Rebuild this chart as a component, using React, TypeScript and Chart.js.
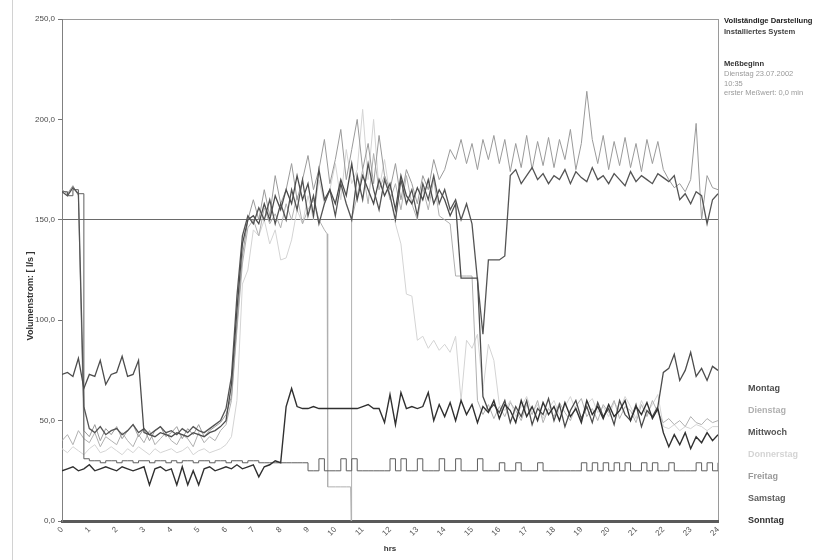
import React, { useEffect, useRef } from 'react';
import { Chart, registerables } from 'chart.js';

Chart.register(...registerables);

const FONT = "'Liberation Sans', Arial, Helvetica, sans-serif";

// time axis (hours), sampled every 0.2 h
const HOURS = [
  0, 0.2, 0.4, 0.6, 0.8, 1, 1.2, 1.4, 1.6, 1.8,
  2, 2.2, 2.4, 2.6, 2.8, 3, 3.2, 3.4, 3.6, 3.8,
  4, 4.2, 4.4, 4.6, 4.8, 5, 5.2, 5.4, 5.6, 5.8,
  6, 6.2, 6.4, 6.6, 6.8, 7, 7.2, 7.4, 7.6, 7.8,
  8, 8.2, 8.4, 8.6, 8.8, 9, 9.2, 9.4, 9.6, 9.8,
  10, 10.2, 10.4, 10.6, 10.8, 11, 11.2, 11.4, 11.6, 11.8,
  12, 12.2, 12.4, 12.6, 12.8, 13, 13.2, 13.4, 13.6, 13.8,
  14, 14.2, 14.4, 14.6, 14.8, 15, 15.2, 15.4, 15.6, 15.8,
  16, 16.2, 16.4, 16.6, 16.8, 17, 17.2, 17.4, 17.6, 17.8,
  18, 18.2, 18.4, 18.6, 18.8, 19, 19.2, 19.4, 19.6, 19.8,
  20, 20.2, 20.4, 20.6, 20.8, 21, 21.2, 21.4, 21.6, 21.8,
  22, 22.2, 22.4, 22.6, 22.8, 23, 23.2, 23.4, 23.6, 23.8,
  24,
];

const HOUR_TICKS = [0, 1, 2, 3, 4, 5, 6, 7, 8, 9, 10, 11, 12, 13, 14, 15, 16, 17, 18, 19, 20, 21, 22, 23, 24];
const Y_MIN = 0;
const Y_MAX = 250;
const Y_STEP = 50;
const REFERENCE_LINE = 150;

// Volumenstrom [l/s]
const MONTAG = [
  73, 74, 72, 81, 66, 73, 72, 80, 68, 73,
  74, 82, 72, 73, 80, 44, 43, 42, 44, 43,
  42, 44, 43, 42, 44, 43, 42, 44, 45, 47,
  50, 68, 105, 138, 150, 152, 148, 158, 150, 162,
  155, 165, 158, 172, 160, 168, 152, 175, 160, 165,
  158, 170, 162, 178, 160, 172, 165, 158, 170, 162,
  168, 155, 172, 162, 158, 166, 160, 170, 158, 165,
  160, 152, 158, 121, 121, 121, 121, 62, 55, 58,
  54, 60, 49, 57, 52, 60, 48, 56, 53, 61,
  50, 58, 47, 55, 60, 51, 57, 49, 59, 52,
  56, 48, 60, 53, 50, 58, 47, 55, 52, 57,
  74, 76, 83, 70, 75, 84, 72, 76, 70, 77,
  75,
];

const DIENSTAG = [
  40, 43, 38, 45, 41, 39, 44, 37, 42, 40,
  38, 44, 40, 37, 43, 39, 45, 38, 41, 44,
  40, 38, 43, 41, 37, 44, 39, 42, 40, 45,
  48, 60, 95, 128, 146, 150, 142, 156, 148, 153,
  146, 158, 150, 162, 148, 155, 160, 150, 145, 17,
  17, 17, 17, 150, 162, 175, 158, 183, 165, 172,
  160, 168, 155, 172, 158, 150, 166, 155, 170, 152,
  150, 148, 122, 122, 122, 122, 60, 53, 58, 51,
  57, 52, 59, 55, 50, 58, 53, 60, 49, 56,
  52, 59, 54, 50, 57, 61, 52, 56, 50, 58,
  54, 60, 51, 57, 55, 49, 58, 52, 60, 54,
  49, 51, 48, 50, 47, 52, 49, 48, 51, 49,
  50,
];
// measurement gap around the start of the recording (Dienstag 10:35)
const DIENSTAG_GAP_HOURS = [9.7, 9.72, 10.56, 10.58, 10.59];
const DIENSTAG_GAP_VALUES = [143, 17, 17, 0, 0];

const MITTWOCH = [
  164, 162, 166, 163, 57, 46, 44, 47, 43, 45,
  46, 43, 45, 48, 44, 46, 43, 45, 47, 44,
  45, 43, 46, 44, 47, 45, 44, 46, 48, 50,
  56, 72, 112, 142, 152, 148, 156, 150, 160, 148,
  158, 150, 165, 155, 170, 152, 162, 148, 158, 165,
  152, 168, 158, 150, 172, 160, 178, 165, 155, 170,
  162, 150, 170, 158, 165, 152, 168, 160, 172, 158,
  165, 155, 160, 150, 158, 148, 120, 93, 130, 130,
  130, 132, 172, 175, 168, 172, 176, 170, 173, 168,
  172, 170, 175, 168, 174, 171, 169, 176, 170, 172,
  168, 173, 170, 167, 174, 169, 172, 170, 168, 173,
  171, 169, 172, 160, 163, 158, 164, 162, 148, 160,
  163,
];

const DONNERSTAG = [
  36, 34, 37, 35, 33, 36, 38, 34, 35, 37,
  35, 33, 36, 34, 37, 35, 33, 36, 34, 35,
  36, 34, 35, 37, 33, 35, 36, 34, 35, 36,
  38, 42, 60, 118, 125, 145, 142, 150, 138, 145,
  130, 131, 140, 155, 148, 162, 150, 170, 158, 165,
  178, 160, 185, 168, 175, 205, 170, 200, 165, 180,
  162, 148, 138, 113, 112, 90, 92, 86, 90, 85,
  88, 84, 92, 60, 90, 86, 93, 65, 88, 80,
  58, 55, 60, 52, 57, 62, 54, 58, 51, 56,
  60, 53, 57, 62, 55, 50, 58, 61, 54, 57,
  52, 59, 55, 62, 57, 51, 60, 54, 58, 63,
  47, 46, 48, 45, 47, 46, 48, 47, 45, 47,
  47,
];

const FREITAG = [
  165, 163, 167, 162, 45, 42, 48, 40, 46, 43,
  47, 41, 45, 48, 42, 46, 40, 45, 47, 42,
  44, 47, 41, 46, 43, 48, 42, 45, 47, 49,
  53, 62, 98, 132, 150, 160, 150, 165, 152, 172,
  158, 165, 178, 160, 170, 182, 165, 175, 190, 168,
  180, 195, 170, 185, 200, 175, 188, 168, 192, 172,
  165, 178, 160, 175, 168, 158, 172, 165, 180, 170,
  175, 185, 180, 190, 178, 188, 175, 190, 180, 192,
  178, 190, 174, 188, 176, 192, 175, 189, 177, 191,
  176, 190, 180, 195, 175, 188, 214, 190, 178, 192,
  175, 189, 177, 191, 176, 188, 174, 190, 178, 189,
  175, 170, 166, 168, 164, 170, 198, 150, 172, 166,
  165,
];

const SAMSTAG = [
  164, 162, 165, 163, 31, 30, 30, 29, 30, 30,
  29, 30, 30, 29, 30, 30, 29, 30, 30, 29,
  30, 29, 30, 30, 29, 30, 30, 29, 30, 30,
  29, 30, 30, 29, 30, 30, 29, 29, 29, 29,
  29, 29, 29, 29, 29, 25, 25, 31, 25, 25,
  25, 31, 25, 31, 25, 25, 25, 25, 25, 25,
  31, 25, 31, 25, 25, 31, 25, 25, 25, 31,
  25, 25, 31, 25, 25, 25, 31, 25, 25, 25,
  29, 25, 25, 29, 25, 25, 25, 29, 25, 25,
  25, 25, 25, 25, 25, 29, 25, 29, 25, 29,
  25, 29, 25, 29, 25, 25, 29, 25, 29, 25,
  25, 29, 25, 25, 25, 25, 29, 25, 29, 25,
  29,
];

const SONNTAG = [
  25, 26, 27, 25, 26, 28, 25, 26, 27, 26,
  25, 27, 26, 25, 26, 27, 18, 26, 27, 25,
  26, 18, 27, 18, 25, 18, 26, 27, 25, 26,
  27, 26, 28, 26, 27, 28, 22, 27, 28, 30,
  29, 57, 66, 57, 56, 56, 57, 56, 56, 56,
  56, 56, 56, 56, 56, 57, 58, 56, 56, 49,
  63, 48, 64, 56, 57, 56, 57, 64, 50, 58,
  52, 59, 50, 60, 53, 58, 49, 57, 54, 60,
  51, 58, 55, 49, 60, 52, 57, 50, 59, 53,
  57, 50, 59, 52, 56, 49, 60, 53, 57, 51,
  58, 52, 55, 60, 50, 57, 53, 59, 51, 56,
  44, 37, 43, 38, 44, 36, 42, 39, 44, 40,
  43,
];

const SERIES_NAMES = ['Montag', 'Dienstag', 'Mittwoch', 'Donnerstag', 'Freitag', 'Samstag', 'Sonntag'];
const SERIES_VALUES = [MONTAG, DIENSTAG, MITTWOCH, DONNERSTAG, FREITAG, SAMSTAG, SONNTAG];
const SERIES_COLORS = ['#4c4c4c', '#b0b0b0', '#545454', '#d4d4d4', '#9a9a9a', '#5e5e5e', '#303030'];
const SERIES_WIDTHS = [1.3, 1, 1.3, 1, 1, 1, 1.4];
const SERIES_ORDER = [1, 5, 2, 6, 4, 3, 0];
const SERIES_STEPPED = [false, false, false, false, false, true, false];

const Y_TITLE = 'Volumenstrom: [ l/s ]';
const X_TITLE = 'hrs';
const INFO_LINES = [
  { text: 'Vollständige Darstellung', bold: true, color: '#222', y: 21 },
  { text: 'Installiertes System', bold: true, color: '#444', y: 32 },
  { text: 'Meßbeginn', bold: true, color: '#333', y: 64 },
  { text: 'Dienstag 23.07.2002', bold: false, color: '#9a9a9a', y: 74 },
  { text: '10:35', bold: false, color: '#9a9a9a', y: 84 },
  { text: 'erster Meßwert: 0,0 min', bold: false, color: '#9a9a9a', y: 93 },
];

function buildPoints(values: number[], extraX: number[] = [], extraY: number[] = []) {
  const pts = values.map((y, i) => ({ x: HOURS[i], y }));
  extraX.forEach((x, i) => pts.push({ x, y: extraY[i] }));
  pts.sort((a, b) => a.x - b.x);
  return pts;
}

const decorPlugin = {
  id: 'decor',
  afterDraw(chart: any) {
    const ctx = chart.ctx as CanvasRenderingContext2D;
    ctx.save();
    // scanned page edge on the left
    ctx.strokeStyle = '#d2d2d2';
    ctx.lineWidth = 1;
    ctx.beginPath();
    ctx.moveTo(12.5, 0);
    ctx.lineTo(12.5, 560);
    ctx.stroke();

    // y-axis title
    ctx.save();
    ctx.translate(31, 296);
    ctx.rotate(-Math.PI / 2);
    ctx.font = `bold 9px ${FONT}`;
    ctx.fillStyle = '#333';
    ctx.textAlign = 'center';
    ctx.textBaseline = 'middle';
    ctx.fillText(Y_TITLE, 0, 0);
    ctx.restore();

    // info block
    ctx.textAlign = 'left';
    ctx.textBaseline = 'middle';
    INFO_LINES.forEach((l) => {
      ctx.font = `${l.bold ? 'bold 7.6px' : '7.5px'} ${FONT}`;
      ctx.fillStyle = l.color;
      ctx.fillText(l.text, 724, l.y);
    });

    // legend (coloured labels only)
    ctx.font = `bold 9px ${FONT}`;
    chart.data.datasets.forEach((ds: any, i: number) => {
      ctx.fillStyle = ds.borderColor;
      ctx.fillText(ds.label, 748, 389 + i * 22);
    });
    ctx.restore();
  },
};

export default function App() {
  const ref = useRef<HTMLCanvasElement>(null);

  useEffect(() => {
    if (!ref.current) return;
    const datasets = SERIES_NAMES.map((name, i) => ({
      label: name,
      data: i === 1 ? buildPoints(SERIES_VALUES[i], DIENSTAG_GAP_HOURS, DIENSTAG_GAP_VALUES) : buildPoints(SERIES_VALUES[i]),
      borderColor: SERIES_COLORS[i],
      backgroundColor: SERIES_COLORS[i],
      borderWidth: SERIES_WIDTHS[i],
      pointRadius: 0,
      tension: 0,
      stepped: SERIES_STEPPED[i],
      order: SERIES_ORDER[i],
      fill: false,
    }));

    const chart = new Chart(ref.current, {
      type: 'line',
      data: { datasets },
      options: {
        animation: false,
        responsive: false,
        devicePixelRatio: 1,
        layout: { padding: { left: 0, top: 19, right: 97, bottom: 0 } },
        plugins: { legend: { display: false }, tooltip: { enabled: false } },
        scales: {
          x: {
            type: 'linear',
            min: HOUR_TICKS[0],
            max: HOUR_TICKS[HOUR_TICKS.length - 1],
            afterBuildTicks: (s: any) => {
              s.ticks = HOUR_TICKS.map((v) => ({ value: v }));
            },
            afterFit: (s: any) => {
              s.height = 39;
            },
            ticks: {
              autoSkip: false,
              minRotation: 45,
              maxRotation: 45,
              padding: 4,
              color: '#555',
              font: { family: FONT, size: 8 },
            },
            grid: {
              drawTicks: false,
              color: (c: any) => (c.tick && c.tick.value === 24 ? '#9a9a9a' : 'rgba(0,0,0,0)'),
            },
            border: { color: '#5a5a5a', width: 3 },
            title: {
              display: true,
              text: X_TITLE,
              color: '#333',
              font: { family: FONT, size: 8, weight: 'bold' },
              padding: { top: 0, bottom: 6 },
            },
          },
          y: {
            min: Y_MIN,
            max: Y_MAX,
            afterFit: (s: any) => {
              s.width = 62;
            },
            ticks: {
              stepSize: Y_STEP,
              padding: 3,
              color: '#4a4a4a',
              font: { family: FONT, size: 8 },
              callback: (v: any) => Number(v).toFixed(1).replace('.', ','),
            },
            grid: {
              drawTicks: true,
              tickLength: 4,
              tickColor: '#777',
              color: (c: any) => {
                if (!c.tick) return 'rgba(0,0,0,0)';
                if (c.tick.value === REFERENCE_LINE) return '#6a6a6a';
                if (c.tick.value === Y_MAX) return '#9a9a9a';
                return 'rgba(0,0,0,0)';
              },
            },
            border: { color: '#808080', width: 1 },
          },
        },
      },
      plugins: [decorPlugin],
    } as any);
    return () => chart.destroy();
  }, []);

  return (
    <div style={{ position: 'fixed', left: 0, top: 0, width: 815, height: 560, background: '#fff' }}>
      <canvas ref={ref} width={815} height={560} style={{ display: 'block', width: 815, height: 560 }} />
    </div>
  );
}
